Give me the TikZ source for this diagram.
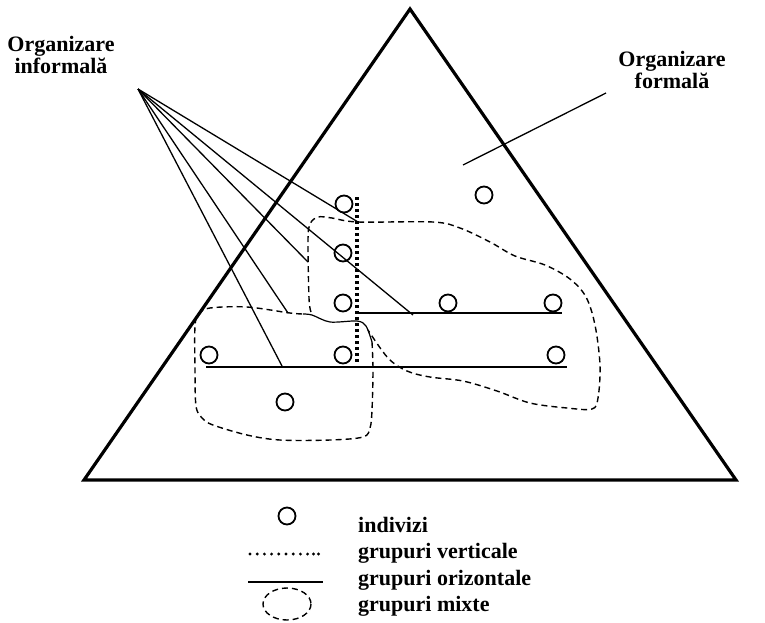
\documentclass[tikz,border=0pt]{standalone}
\usepackage{fontspec}
\setmainfont{Liberation Serif}
\begin{document}
\begin{tikzpicture}[x=1pt,y=-1pt,
  every node/.style={inner sep=0pt},
  lbl/.style={font=\bfseries\fontsize{22}{21.5}\selectfont, align=center, anchor=base},
  legendtxt/.style={font=\bfseries\fontsize{22}{22}\selectfont, anchor=base west},
  member/.style={circle, draw, line width=1.8pt, minimum size=17pt},
  frame/.style={line width=3.2pt, line join=miter},
  link/.style={line width=1.3pt},
  horiz/.style={line width=1.8pt},
  vert/.style={line width=3.6pt, dash pattern=on 3pt off 3pt},
  blob/.style={line width=1.4pt, dash pattern=on 6pt off 4pt},
  seam/.style={line width=1.2pt},
]
\useasboundingbox (0,0) rectangle (765,622);

% the organisation triangle
\coordinate (top) at (410,9);
\coordinate (br) at (736,480);
\coordinate (bl) at (84,480);
\draw[frame] (top) -- (br) -- (bl) -- cycle;

% labels (anchor = baseline of the last line)
\node[lbl] (inf) at (61,73) {Organizare\\informală};
\node[lbl] (form) at (672,88) {Organizare\\formală};
\coordinate (formtip) at (463,165);
\coordinate (formend) at (606,93);
\draw[link] (formtip) -- (formend);

% vertical group (dotted)
\coordinate (va) at (357,197);
\coordinate (vb) at (357,364);
\draw[vert] (va) -- (vb);

% horizontal groups
\coordinate (h1a) at (357,313);
\coordinate (h1b) at (562,313);
\coordinate (h2a) at (206,367);
\coordinate (h2b) at (567,367);
\draw[horiz] (h1a) -- (h1b);
\draw[horiz] (h2a) -- (h2b);

% mixed groups (dashed outlines) and their shared seam
\draw[blob] plot[smooth, tension=0.55] coordinates {
  (311,312) (309,298) (308,240) (310,224) (318,217) (332,218) (358,222)
  (433,222) (460,228) (490,242) (515,256) (545,265) (570,279) (586,297)
  (595,325) (600,365) (598,398) (592,409) (567,408) (530,403) (497,391)
  (463,381) (430,377) (407,371) (388,358) (368,330)};
\draw[blob] plot[smooth, tension=0.55] coordinates {
  (372,342) (373,370) (372,410) (370,428) (363,437) (330,440) (280,440)
  (247,435) (213,425) (202,418) (196,406) (195,370) (195,326) (199,314)
  (210,308) (247,307) (290,313) (304,314)};
\draw[seam] plot[smooth, tension=0.5] coordinates {
  (303,314) (312,315) (330,322) (357,321) (366,326) (372,342)};

% informal links
\coordinate (fan) at (138,89);
\coordinate (f1) at (358,222);
\coordinate (f2) at (413,315);
\coordinate (f3) at (308,262);
\coordinate (f4) at (288,313);
\coordinate (f5) at (282,366);
\foreach \t in {f1,f2,f3,f4,f5} \draw[link] (fan) -- (\t);

% individuals
\node[member, fill=white] (m1) at (344,204) {};
\node[member, fill=white] (m2) at (484,195) {};
\node[member] (m3) at (343,253) {};
\node[member, fill=white] (m4) at (343,303) {};
\node[member, fill=white] (m5) at (448,303) {};
\node[member, fill=white] (m6) at (553,303) {};
\node[member, fill=white] (m7) at (209,355) {};
\node[member, fill=white] (m8) at (343,355) {};
\node[member, fill=white] (m9) at (556,355) {};
\node[member, fill=white] (m10) at (285,402) {};

% legend
\node[member] (lgc) at (287,516) {};
\foreach \i in {0,...,8} \fill (250+\i*7.2,554) circle (1.6);
\fill (313.5,554) circle (1.6);
\fill (318.5,554) circle (1.6);
\coordinate (lha) at (248,582);
\coordinate (lhb) at (323,582);
\draw[link] (lha) -- (lhb);
\draw[blob] (287,604) ellipse [x radius=24, y radius=16];
\node[legendtxt] (t1) at (358,532) {indivizi};
\node[legendtxt] (t2) at (358,558) {grupuri verticale};
\node[legendtxt] (t3) at (358,585) {grupuri orizontale};
\node[legendtxt] (t4) at (358,611) {grupuri mixte};
\end{tikzpicture}
\end{document}
